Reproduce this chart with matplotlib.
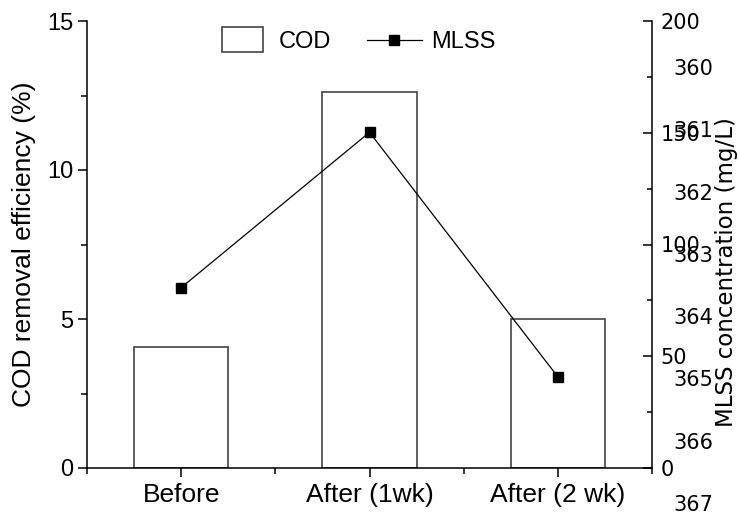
import matplotlib
matplotlib.use('Agg')
import matplotlib.pyplot as plt
import matplotlib.patches as mpatches
from matplotlib.legend_handler import HandlerPatch
from matplotlib.ticker import MultipleLocator, FixedLocator

# data
stages = ['Before', 'After (1wk)', 'After (2 wk)']
cod_removal = [4.07, 12.61, 5.01]      # %
mlss = [80.7, 150.2, 40.8]             # mg/L
extra_ticks = [360, 361, 362, 363, 364, 365, 366, 367]

plt.rcParams['font.family'] = ['Liberation Sans', 'DejaVu Sans']

fig = plt.figure(figsize=(7.4, 5.15), dpi=100)
ax = fig.add_axes([87/740, 47/515, 565/740, 447/515])

x = list(range(len(stages)))
ax.bar(x, cod_removal, width=0.5, facecolor='white', edgecolor='#444444',
       linewidth=1.2, label='COD')
ax.set_xlim(-0.5, 2.5)
ax.set_ylim(0, 15)
ax.set_xticks(x)
ax.set_xticklabels(stages, fontsize=19)
ax.xaxis.set_minor_locator(FixedLocator([-0.5, 0.5, 1.5, 2.5]))
ax.yaxis.set_major_locator(MultipleLocator(5))
ax.yaxis.set_minor_locator(MultipleLocator(2.5))
ax.tick_params(axis='y', labelsize=17)
ax.tick_params(axis='both', which='major', direction='out', length=6.5, width=1.1)
ax.tick_params(axis='both', which='minor', direction='out', length=4.3, width=1.1)
ax.tick_params(axis='x', which='major', pad=4)
ax.set_ylabel('COD removal efficiency (%)', fontsize=19, labelpad=8)
ax.spines['top'].set_visible(False)
ax.spines['right'].set_visible(False)
for s in ['left', 'bottom']:
    ax.spines[s].set_linewidth(1.1)

ax2 = ax.twinx()
ln, = ax2.plot(x, mlss, color='black', linewidth=0.9, marker='s',
               markersize=7.5, label='MLSS')
ax2.set_ylim(0, 200)
ax2.yaxis.set_major_locator(MultipleLocator(50))
ax2.yaxis.set_minor_locator(MultipleLocator(25))
ax2.tick_params(axis='y', which='major', direction='in', length=6.5, width=1.1,
                pad=6, labelsize=15, labelfontfamily='DejaVu Sans')
ax2.tick_params(axis='y', which='minor', direction='in', length=3.6, width=1.1)
ax2.spines['top'].set_visible(False)
ax2.spines['left'].set_visible(False)
ax2.spines['bottom'].set_visible(False)
ax2.spines['right'].set_linewidth(1.1)
ax2.set_ylabel('MLSS concentration (mg/L)', fontsize=16.5, family='DejaVu Sans')
ax2.yaxis.set_label_coords((726 - 87) / 565, (468 - 272) / 447)
ax2.yaxis.label.set_ha('center')
ax2.yaxis.label.set_va('center')

# stray overlapping tick labels on the right
ax3 = fig.add_axes([87/740, 12/515, 565/740, 436/515])
ax3.patch.set_visible(False)
for s in ax3.spines.values():
    s.set_visible(False)
ax3.set_ylim(367, 360)
ax3.set_xticks([])
ax3.yaxis.tick_right()
ax3.set_yticks(extra_ticks)
ax3.tick_params(axis='y', length=0, pad=15.5, labelsize=15,
                labelfontfamily='DejaVu Sans')


def narrow_rect(legend, orig_handle, xdescent, ydescent, width, height, fontsize):
    w = width * 0.73
    h = 18
    return mpatches.Rectangle((-xdescent + (width - w) / 2, -ydescent + height / 2 - h / 2),
                              w, h)


bar_handle = mpatches.Patch(facecolor='white', edgecolor='#444444', linewidth=1.2)
fig.legend([bar_handle, ln], ['COD', 'MLSS'], loc='upper left',
           bbox_to_anchor=(215/740, 1 - 31/515), ncol=2, frameon=False,
           fontsize=17, handlelength=2.33, handletextpad=0.38, columnspacing=1.5,
           borderpad=0, borderaxespad=0,
           handler_map={mpatches.Patch: HandlerPatch(patch_func=narrow_rect)})

fig.savefig('out.png', dpi=100)
